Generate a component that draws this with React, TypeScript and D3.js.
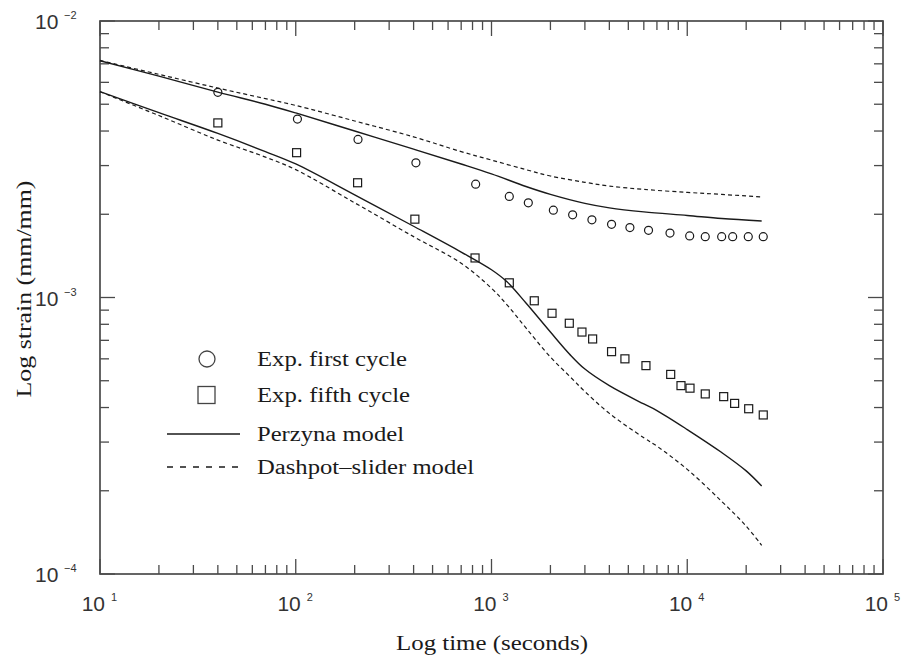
// @ts-nocheck
import * as d3 from 'd3';
import React, { useEffect, useRef } from 'react';

// experimental points, first loading cycle
const firstCycleTime = [40, 102, 208, 411, 830, 1233, 1542, 2070, 2597, 3258, 4105, 5094, 6341, 8163, 10290, 12360, 14990, 17060, 20500, 24450];
const firstCycleStrain = [5.52e-3, 4.42e-3, 3.73e-3, 3.07e-3, 2.57e-3, 2.32e-3, 2.2e-3, 2.07e-3, 1.99e-3, 1.91e-3, 1.84e-3, 1.79e-3, 1.75e-3, 1.71e-3, 1.67e-3, 1.66e-3, 1.66e-3, 1.66e-3, 1.66e-3, 1.66e-3];

// experimental points, fifth loading cycle
const fifthCycleTime = [40, 101, 207, 406, 824, 1233, 1654, 2038, 2497, 2898, 3286, 4105, 4804, 6152, 8230, 9290, 10330, 12360, 15350, 17460, 20600, 24450];
const fifthCycleStrain = [4.28e-3, 3.34e-3, 2.6e-3, 1.92e-3, 1.39e-3, 1.13e-3, 9.73e-4, 8.77e-4, 8.07e-4, 7.5e-4, 7.08e-4, 6.37e-4, 6.0e-4, 5.67e-4, 5.27e-4, 4.8e-4, 4.7e-4, 4.48e-4, 4.38e-4, 4.14e-4, 3.96e-4, 3.76e-4];

// model curves, first cycle
const upperModelTime = [10, 20, 40, 70, 100, 200, 400, 700, 1000, 1500, 2000, 3000, 4000, 6000, 10000, 15000, 24000];
const perzynaFirst = [7.18e-3, 6.32e-3, 5.53e-3, 5.0e-3, 4.65e-3, 4.0e-3, 3.44e-3, 3.04e-3, 2.8e-3, 2.52e-3, 2.36e-3, 2.19e-3, 2.11e-3, 2.04e-3, 1.98e-3, 1.93e-3, 1.89e-3];
const dashpotFirst = [7.2e-3, 6.41e-3, 5.72e-3, 5.24e-3, 4.95e-3, 4.35e-3, 3.81e-3, 3.37e-3, 3.14e-3, 2.9e-3, 2.75e-3, 2.61e-3, 2.53e-3, 2.46e-3, 2.4e-3, 2.36e-3, 2.31e-3];

// model curves, fifth cycle
const lowerModelTime = [10, 20, 40, 70, 100, 200, 400, 700, 1000, 1200, 1500, 2000, 2500, 3000, 4000, 6000, 7000, 10000, 15000, 20000, 24000];
const perzynaFifth = [5.55e-3, 4.66e-3, 3.92e-3, 3.37e-3, 3.04e-3, 2.35e-3, 1.81e-3, 1.46e-3, 1.26e-3, 1.14e-3, 9.55e-4, 7.5e-4, 6.25e-4, 5.51e-4, 4.8e-4, 4.12e-4, 3.9e-4, 3.33e-4, 2.75e-4, 2.36e-4, 2.08e-4];
const dashpotFifth = [5.55e-3, 4.55e-3, 3.71e-3, 3.22e-3, 2.9e-3, 2.2e-3, 1.66e-3, 1.33e-3, 1.08e-3, 9.41e-4, 7.76e-4, 6.09e-4, 5.2e-4, 4.57e-4, 3.81e-4, 3.11e-4, 2.9e-4, 2.39e-4, 1.83e-4, 1.49e-4, 1.27e-4];

const xExponents = [1, 2, 3, 4, 5];
const yExponents = [-2, -3, -4];

const legendItems = ['Exp. first cycle', 'Exp. fifth cycle', 'Perzyna model', 'Dashpot\u2013slider model'];

const App = () => {
  const svgRef = useRef(null);

  useEffect(() => {
    if (!svgRef.current) return;
    const svg = d3.select(svgRef.current);
    svg.selectAll('*').remove();

    const width = 906;
    const height = 660;
    const margin = { top: 21, right: 23, bottom: 86, left: 100 };
    const x0 = margin.left;
    const x1 = width - margin.right;
    const y0 = height - margin.bottom;
    const y1 = margin.top;

    const x = d3.scaleLog().domain([10, 1e5]).range([x0, x1]);
    const y = d3.scaleLog().domain([1e-4, 1e-2]).range([y0, y1]);

    const ink = '#1a1a1a';
    const axisInk = '#4a4a4a';
    const serif = '"Liberation Serif", "Times New Roman", serif';
    const sans = '"Liberation Sans", Arial, sans-serif';

    const isMajor = v => Math.abs(Math.log10(v) - Math.round(Math.log10(v))) < 1e-6;

    // ticks, pointing inward on all four sides
    x.ticks().forEach(t => {
      const len = isMajor(t) ? 15 : 9;
      svg.append('line').attr('x1', x(t)).attr('x2', x(t)).attr('y1', y0).attr('y2', y0 - len)
        .attr('stroke', axisInk).attr('stroke-width', 1.3);
      svg.append('line').attr('x1', x(t)).attr('x2', x(t)).attr('y1', y1).attr('y2', y1 + len)
        .attr('stroke', axisInk).attr('stroke-width', 1.3);
    });
    y.ticks().forEach(v => {
      const len = isMajor(v) ? 15 : 9;
      svg.append('line').attr('x1', x0).attr('x2', x0 + len).attr('y1', y(v)).attr('y2', y(v))
        .attr('stroke', axisInk).attr('stroke-width', 1.3);
      svg.append('line').attr('x1', x1).attr('x2', x1 - len).attr('y1', y(v)).attr('y2', y(v))
        .attr('stroke', axisInk).attr('stroke-width', 1.3);
    });

    // frame
    svg.append('rect').attr('x', x0).attr('y', y1).attr('width', x1 - x0).attr('height', y0 - y1)
      .attr('fill', 'none').attr('stroke', axisInk).attr('stroke-width', 1.7);

    // tick labels
    xExponents.forEach(e => {
      const tx = x(Math.pow(10, e));
      svg.append('text').attr('x', tx + 5).attr('y', y0 + 37).attr('text-anchor', 'end')
        .style('font-family', sans).style('font-size', '21px').style('fill', '#333').text('10');
      svg.append('text').attr('x', tx + 11).attr('y', y0 + 27)
        .style('font-family', sans).style('font-size', '11px').style('fill', '#333').text(String(e));
    });
    yExponents.forEach(e => {
      const ty = y(Math.pow(10, e));
      svg.append('text').attr('x', 35).attr('y', ty + 8).style('font-family', sans)
        .style('font-size', '21px').style('fill', '#333').text('10');
      svg.append('text').attr('x', 64).attr('y', ty - 2).style('font-family', sans)
        .style('font-size', '11px').style('fill', '#333').text('\u2212' + Math.abs(e));
    });

    // axis titles
    svg.append('text').attr('x', 492).attr('y', 650).attr('text-anchor', 'middle')
      .attr('textLength', 192).attr('lengthAdjust', 'spacingAndGlyphs')
      .style('font-family', serif).style('font-size', '21px').style('fill', ink)
      .text('Log time (seconds)');
    svg.append('text').attr('transform', 'translate(31,289) rotate(-90)').attr('text-anchor', 'middle')
      .attr('textLength', 217).attr('lengthAdjust', 'spacingAndGlyphs')
      .style('font-family', serif).style('font-size', '21px').style('fill', ink)
      .text('Log strain (mm/mm)');

    // model curves
    const line = d3.line().x(d => x(d[0])).y(d => y(d[1])).curve(d3.curveCatmullRom.alpha(0.5));
    const curves = [
      { t: upperModelTime, s: perzynaFirst, dash: null },
      { t: upperModelTime, s: dashpotFirst, dash: '4,3' },
      { t: lowerModelTime, s: perzynaFifth, dash: null },
      { t: lowerModelTime, s: dashpotFifth, dash: '4,3' },
    ];
    curves.forEach(c => {
      svg.append('path').datum(c.t.map((t, i) => [t, c.s[i]]))
        .attr('fill', 'none').attr('stroke', ink).attr('stroke-width', c.dash ? 1.2 : 1.4)
        .attr('stroke-dasharray', c.dash).attr('d', line);
    });

    // experimental markers
    svg.append('g').selectAll('circle').data(firstCycleTime.map((t, i) => [t, firstCycleStrain[i]]))
      .enter().append('circle')
      .attr('cx', d => x(d[0])).attr('cy', d => y(d[1])).attr('r', 4)
      .attr('fill', 'none').attr('stroke', ink).attr('stroke-width', 1.2);
    svg.append('g').selectAll('rect').data(fifthCycleTime.map((t, i) => [t, fifthCycleStrain[i]]))
      .enter().append('rect')
      .attr('x', d => x(d[0]) - 4).attr('y', d => y(d[1]) - 4).attr('width', 8).attr('height', 8)
      .attr('fill', 'none').attr('stroke', ink).attr('stroke-width', 1.2);

    // legend
    const lg = svg.append('g');
    const rowY = [359, 395, 434, 467];
    const textW = [150, 153, 147, 217];
    lg.append('circle').attr('cx', 207).attr('cy', rowY[0]).attr('r', 8)
      .attr('fill', 'none').attr('stroke', '#444').attr('stroke-width', 1.3);
    lg.append('rect').attr('x', 198).attr('y', rowY[1] - 8.5).attr('width', 17).attr('height', 17)
      .attr('fill', 'none').attr('stroke', '#444').attr('stroke-width', 1.3);
    lg.append('line').attr('x1', 167).attr('x2', 240).attr('y1', rowY[2]).attr('y2', rowY[2])
      .attr('stroke', ink).attr('stroke-width', 1.4);
    lg.append('line').attr('x1', 167).attr('x2', 240).attr('y1', rowY[3]).attr('y2', rowY[3])
      .attr('stroke', ink).attr('stroke-width', 1.3).attr('stroke-dasharray', '6,7');
    legendItems.forEach((label, i) => {
      lg.append('text').attr('x', 257).attr('y', rowY[i] + 7)
        .attr('textLength', textW[i]).attr('lengthAdjust', 'spacingAndGlyphs')
        .style('font-family', serif).style('font-size', '20px').style('fill', ink)
        .text(label);
    });
  }, []);

  return (
    <div>
      <style>{'body{margin:0}'}</style>
      <svg ref={svgRef} width={906} height={660} style={{ display: 'block', background: '#ffffff' }} />
    </div>
  );
};

export default App;
